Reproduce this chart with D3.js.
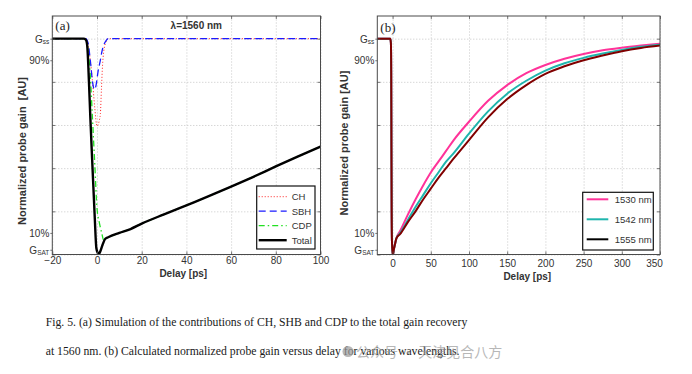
<!DOCTYPE html>
<html>
<head>
<meta charset="utf-8">
<script src="https://cdn.jsdelivr.net/npm/d3@7"></script>
<style>
    html, body { margin: 0; padding: 0; background: #fff; }
    svg { display: block; }
    text { font-family: "Liberation Sans", Arial, sans-serif; }
</style>
</head>
<body>
<div id="figure"></div>
<script>
/* =====================================================
   Gain recovery figure, panels (a) and (b)
   ===================================================== */

// ---- values ----
const delayTicksA = [-20, 0, 20, 40, 60, 80, 100];
const delayTicksB = [0, 50, 100, 150, 200, 250, 300, 350];
const gainGrid = [0, 0.2, 0.4, 0.6, 0.8, 1.0];
const gainTickValues = [1.0, 0.9, 0.1, 0.022];
const gainTickLabels = ['G|ss', '90%', '10%', 'G|SAT'];

// (a) contributions at 1560 nm
const chDelay  = [-20, -5, -4, -3, -2, -1, 0, 0.5, 1, 1.5, 2, 2.5, 3, 4, 5, 100];
const chGain   = [1, 1, 0.97, 0.9, 0.8, 0.68, 0.595, 0.6, 0.62, 0.65, 0.77, 0.88, 0.94, 0.985, 1, 1];
const sbhDelay = [-20, -5, -4, -3, -2, -1.2, -0.5, 0.5, 1.5, 2.2, 3, 4, 5, 100];
const sbhGain  = [1, 1, 0.98, 0.9, 0.8, 0.765, 0.78, 0.85, 0.9, 0.94, 0.97, 0.99, 1, 1];
const cdpDelay = [-20, -6, -5, -4.4, -3, -2, -1, 0, 1, 2.2, 2.9, 3.7, 5, 10, 15, 20, 30, 40, 50, 60, 70, 80, 90, 100];
const cdpGain  = [1, 1, 0.995, 0.97, 0.83, 0.625, 0.42, 0.213, 0.15, 0.096, 0.068, 0.073, 0.08, 0.1, 0.118, 0.143, 0.186, 0.228, 0.27, 0.314, 0.36, 0.408, 0.455, 0.5];
const totalDelay = [-20, -6, -5, -4.4, -3.6, -3, -2, -1, -0.3, 0.3, 0.9, 1.5, 2.5, 3.7, 5, 10, 15, 20, 30, 40, 50, 60, 70, 80, 90, 100];
const totalGain  = [1, 1, 0.995, 0.97, 0.8, 0.64, 0.4, 0.17, 0.03, 0.008, 0.003, 0.015, 0.045, 0.073, 0.08, 0.1, 0.118, 0.143, 0.186, 0.228, 0.27, 0.314, 0.36, 0.408, 0.455, 0.5];

// (b) normalized probe gain for three wavelengths
const wavelengths = ['1530 nm', '1542 nm', '1555 nm'];
const delayB = [-20, -3, -2.2, -1.8, -1.5, -1.2, -0.8, 0, 0.5, 1.5, 3, 5, 10, 20, 30, 40, 50, 60, 70, 80, 100, 125, 150, 175, 200, 225, 250, 275, 300, 325, 350];
const gain1530 = [1, 1, 0.98, 0.85, 0.5, 0.2, 0.06, 0.01, 0, 0.02, 0.045, 0.075, 0.11, 0.185, 0.255, 0.32, 0.38, 0.43, 0.48, 0.53, 0.615, 0.712, 0.785, 0.84, 0.878, 0.907, 0.929, 0.946, 0.958, 0.968, 0.977];
const gain1542 = [1, 1, 0.98, 0.85, 0.5, 0.2, 0.06, 0.01, 0, 0.02, 0.045, 0.075, 0.1, 0.16, 0.22, 0.275, 0.33, 0.38, 0.43, 0.47, 0.56, 0.663, 0.745, 0.805, 0.852, 0.886, 0.911, 0.931, 0.948, 0.962, 0.972];
const gain1555 = [1, 1, 0.98, 0.85, 0.5, 0.2, 0.06, 0.01, 0, 0.02, 0.045, 0.075, 0.095, 0.15, 0.2, 0.255, 0.305, 0.355, 0.4, 0.445, 0.53, 0.635, 0.72, 0.785, 0.837, 0.872, 0.9, 0.922, 0.942, 0.957, 0.968];

const zip = (xs, ys) => xs.map((x, i) => [x, ys[i]]);

class GainPanel {
    constructor(svg, config, series) {
        this.svg = svg;
        this.config = config;
        this.series = series;
        this.initVis();
    }

    initVis() {
        let vis = this;
        const c = vis.config;

        vis.width = c.right - c.left;
        vis.height = c.bottom - c.top;

        vis.chart = vis.svg.append('g')
            .attr('transform', `translate(${c.left},${c.top})`);

        vis.xScale = d3.scaleLinear().domain(c.xDomain).range([0, vis.width]);
        vis.yScale = d3.scaleLinear().domain([0, 1.105]).range([vis.height, 0]);

        vis.chart.append('clipPath').attr('id', 'clip-' + c.id)
            .append('rect').attr('width', vis.width).attr('height', vis.height);

        // dotted grid
        vis.chart.append('g')
            .attr('class', 'grid')
            .attr('transform', `translate(0,${vis.height})`)
            .call(d3.axisBottom(vis.xScale).tickValues(c.xTicks).tickSize(-vis.height).tickFormat(''));
        vis.chart.append('g')
            .attr('class', 'grid')
            .call(d3.axisLeft(vis.yScale).tickValues(gainGrid).tickSize(-vis.width).tickFormat(''));
        vis.chart.selectAll('.grid .domain').remove();
        vis.chart.selectAll('.grid line')
            .style('stroke', '#b8b8b8')
            .style('stroke-width', 0.8)
            .style('stroke-dasharray', '1,2');

        vis.updateVis();
    }

    updateVis() {
        let vis = this;
        const c = vis.config;

        const line = d3.line()
            .x(d => vis.xScale(d[0]))
            .y(d => vis.yScale(d[1]))
            .curve(d3.curveMonotoneX);

        vis.chart.append('g')
            .attr('clip-path', `url(#clip-${c.id})`)
            .selectAll('path')
            .data(vis.series)
            .join('path')
            .attr('d', d => line(d.values))
            .style('fill', 'none')
            .style('stroke', d => d.color)
            .style('stroke-width', d => d.width)
            .style('stroke-dasharray', d => d.dash || null)
            .style('stroke-linejoin', 'round');

        vis.renderVis();
    }

    renderVis() {
        let vis = this;
        const c = vis.config;

        // bottom axis: inward ticks + labels
        vis.xAxisG = vis.chart.append('g')
            .attr('class', 'axis')
            .attr('transform', `translate(0,${vis.height})`)
            .call(d3.axisBottom(vis.xScale).tickValues(c.xTicks)
                .tickSizeInner(-3).tickSizeOuter(0).tickPadding(c.xPad));
        if (c.lastLabelShift) {
            vis.xAxisG.selectAll('.tick:last-of-type text').attr('dx', c.lastLabelShift);
        }

        // top, left, right inward ticks
        vis.chart.append('g').attr('class', 'axis')
            .call(d3.axisTop(vis.xScale).tickValues(c.xTicks).tickSize(-3).tickFormat(''));
        vis.chart.append('g').attr('class', 'axis')
            .call(d3.axisLeft(vis.yScale).tickValues(gainGrid).tickSize(-3).tickFormat(''));
        vis.chart.append('g').attr('class', 'axis')
            .attr('transform', `translate(${vis.width},0)`)
            .call(d3.axisRight(vis.yScale).tickValues(gainGrid).tickSize(-3).tickFormat(''));

        // labelled gain ticks (outward)
        vis.yAxisG = vis.chart.append('g').attr('class', 'axis')
            .call(d3.axisLeft(vis.yScale).tickValues(gainTickValues).tickSize(2).tickFormat(''));
        vis.yAxisG.selectAll('.tick').each(function (d, i) {
            const parts = gainTickLabels[i].split('|');
            const t = d3.select(this).append('text')
                .attr('x', -3)
                .attr('dy', '0.35em')
                .attr('text-anchor', 'end')
                .style('font-size', '10px')
                .style('fill', '#333');
            t.append('tspan').text(parts[0]);
            if (parts[1]) {
                t.append('tspan')
                    .attr('dy', parts[1] === 'ss' ? '0.15em' : '0.2em')
                    .style('font-size', '6.5px')
                    .text(parts[1]);
            }
        });

        vis.chart.selectAll('.axis .domain').remove();
        vis.chart.selectAll('.axis line')
            .style('stroke', '#555')
            .style('stroke-width', 0.8);
        vis.xAxisG.selectAll('text')
            .style('font-size', '10px')
            .style('font-family', '"Liberation Sans", Arial, sans-serif')
            .style('fill', '#333');

        // frame
        vis.chart.append('rect')
            .attr('width', vis.width)
            .attr('height', vis.height)
            .style('fill', 'none')
            .style('stroke', '#4a4a4a')
            .style('stroke-width', 1);

        // axis titles
        vis.svg.append('text')
            .attr('x', c.left + c.xTitleX)
            .attr('y', c.bottom + c.xTitleY)
            .attr('text-anchor', 'middle')
            .style('font-size', '10px')
            .style('font-weight', 'bold')
            .style('fill', '#333')
            .text('Delay [ps]');
        vis.svg.append('text')
            .attr('transform', `translate(${c.yTitleX},${c.yTitleY}) rotate(-90)`)
            .attr('text-anchor', 'middle')
            .attr('dy', '0.35em')
            .style('font-size', '11px')
            .style('font-weight', 'bold')
            .style('fill', '#333')
            .style('white-space', 'pre')
            .text(c.yTitle);

        // panel tag
        vis.chart.append('text')
            .attr('x', 3)
            .attr('y', c.tagY)
            .style('font-family', '"Liberation Serif", "Times New Roman", serif')
            .style('font-size', '13px')
            .style('fill', '#222')
            .text(c.tag);

        if (c.title) {
            vis.chart.append('text')
                .attr('x', c.titleX)
                .attr('y', 12.5)
                .attr('text-anchor', 'middle')
                .style('font-size', '10px')
                .style('font-weight', 'bold')
                .style('fill', '#333')
                .text(c.title);
        }

        // legend
        const L = c.legend;
        const lg = vis.svg.append('g').attr('transform', `translate(${L.x},${L.y})`);
        lg.append('rect')
            .attr('width', L.w).attr('height', L.h)
            .style('fill', '#fff')
            .style('stroke', '#111')
            .style('stroke-width', 1.2);
        const rows = lg.selectAll('.row')
            .data(vis.series)
            .join('g')
            .attr('transform', (d, i) => `translate(0,${L.row0 + i * L.step})`);
        rows.append('line')
            .attr('x1', L.line0).attr('x2', L.line1)
            .style('stroke', d => d.legendColor || d.color)
            .style('stroke-width', d => d.width)
            .style('stroke-dasharray', d => d.dash || null);
        rows.append('text')
            .attr('x', L.textX)
            .attr('dy', '0.35em')
            .style('font-size', '9.5px')
            .style('fill', '#333')
            .text(d => d.name);
    }
}

// ---- build the figure ----
const svg = d3.select('#figure').append('svg')
    .attr('width', 692)
    .attr('height', 374)
    .style('background', '#fff');

new GainPanel(svg, {
    id: 'a', left: 52.3, right: 320.5, top: 16, bottom: 254.5,
    xDomain: [-20, 100], xTicks: delayTicksA, xPad: 2,
    xTitleX: 131, xTitleY: 22,
    yTitle: 'Normalized probe gain  [AU]', yTitleX: 22, yTitleY: 151,
    tag: '(a)', tagY: 14, title: '\u03bb=1560 nm', titleX: 144,
    legend: { x: 256.7, y: 186, w: 58.3, h: 63, row0: 10.7, step: 14.5, line0: 2, line1: 30, textX: 35 }
}, [
    { name: 'CH', values: zip(chDelay, chGain), color: '#ff2020', width: 1, dash: '1,2' },
    { name: 'SBH', values: zip(sbhDelay, sbhGain), color: '#1a1aff', width: 1.3, dash: '7,4' },
    { name: 'CDP', values: zip(cdpDelay, cdpGain), color: '#22e022', width: 1.3, dash: '6,3,1.5,3' },
    { name: 'Total', values: zip(totalDelay, totalGain), color: '#000', width: 2.4 }
]);

new GainPanel(svg, {
    id: 'b', left: 377.3, right: 660, top: 16, bottom: 254.5,
    xDomain: [-20, 350], xTicks: delayTicksB, xPad: 5, lastLabelShift: -6,
    xTitleX: 150, xTitleY: 25,
    yTitle: 'Normalized probe gain [AU]', yTitleX: 344, yTitleY: 143,
    tag: '(b)', tagY: 16,
    legend: { x: 582.7, y: 192.3, w: 70.6, h: 57.7, row0: 7, step: 20, line0: 4, line1: 25.6, textX: 32 }
}, [
    { name: wavelengths[0], values: zip(delayB, gain1530), color: '#ff3399', width: 2 },
    { name: wavelengths[1], values: zip(delayB, gain1542), color: '#1fb5ad', width: 2 },
    { name: wavelengths[2], values: zip(delayB, gain1555), color: '#800000', width: 2, legendColor: '#000' }
]);

// caption
const captionLines = [
    'Fig. 5. (a) Simulation of the contributions of CH, SHB and CDP to the total gain recovery',
    'at 1560 nm. (b) Calculated normalized probe gain versus delay for various wavelengths.'
];
const caption = svg.selectAll('.caption')
    .data(captionLines)
    .join('text')
    .attr('class', 'caption')
    .attr('x', 45.7)
    .attr('y', (d, i) => 326 + i * 28.6)
    .style('font-family', '"Liberation Serif", "Times New Roman", serif')
    .style('font-size', '12px')
    .style('fill', '#1a1a1a')
    .text(d => d);
const firstLen = caption.node().getComputedTextLength();
caption.style('font-size', (12 * 422 / firstLen).toFixed(2) + 'px');

// watermark
const wm = svg.append('g').style('opacity', 0.7);
wm.append('circle').attr('cx', 348).attr('cy', 351.5).attr('r', 5.5).style('fill', '#9a9a9a');
wm.append('text')
    .attr('x', 356)
    .attr('y', 357)
    .style('font-family', '"Noto Sans CJK SC", sans-serif')
    .style('font-size', '14px')
    .style('fill', '#9a9a9a')
    .text('公众号 · 天津见合八方');
</script>
</body>
</html>
